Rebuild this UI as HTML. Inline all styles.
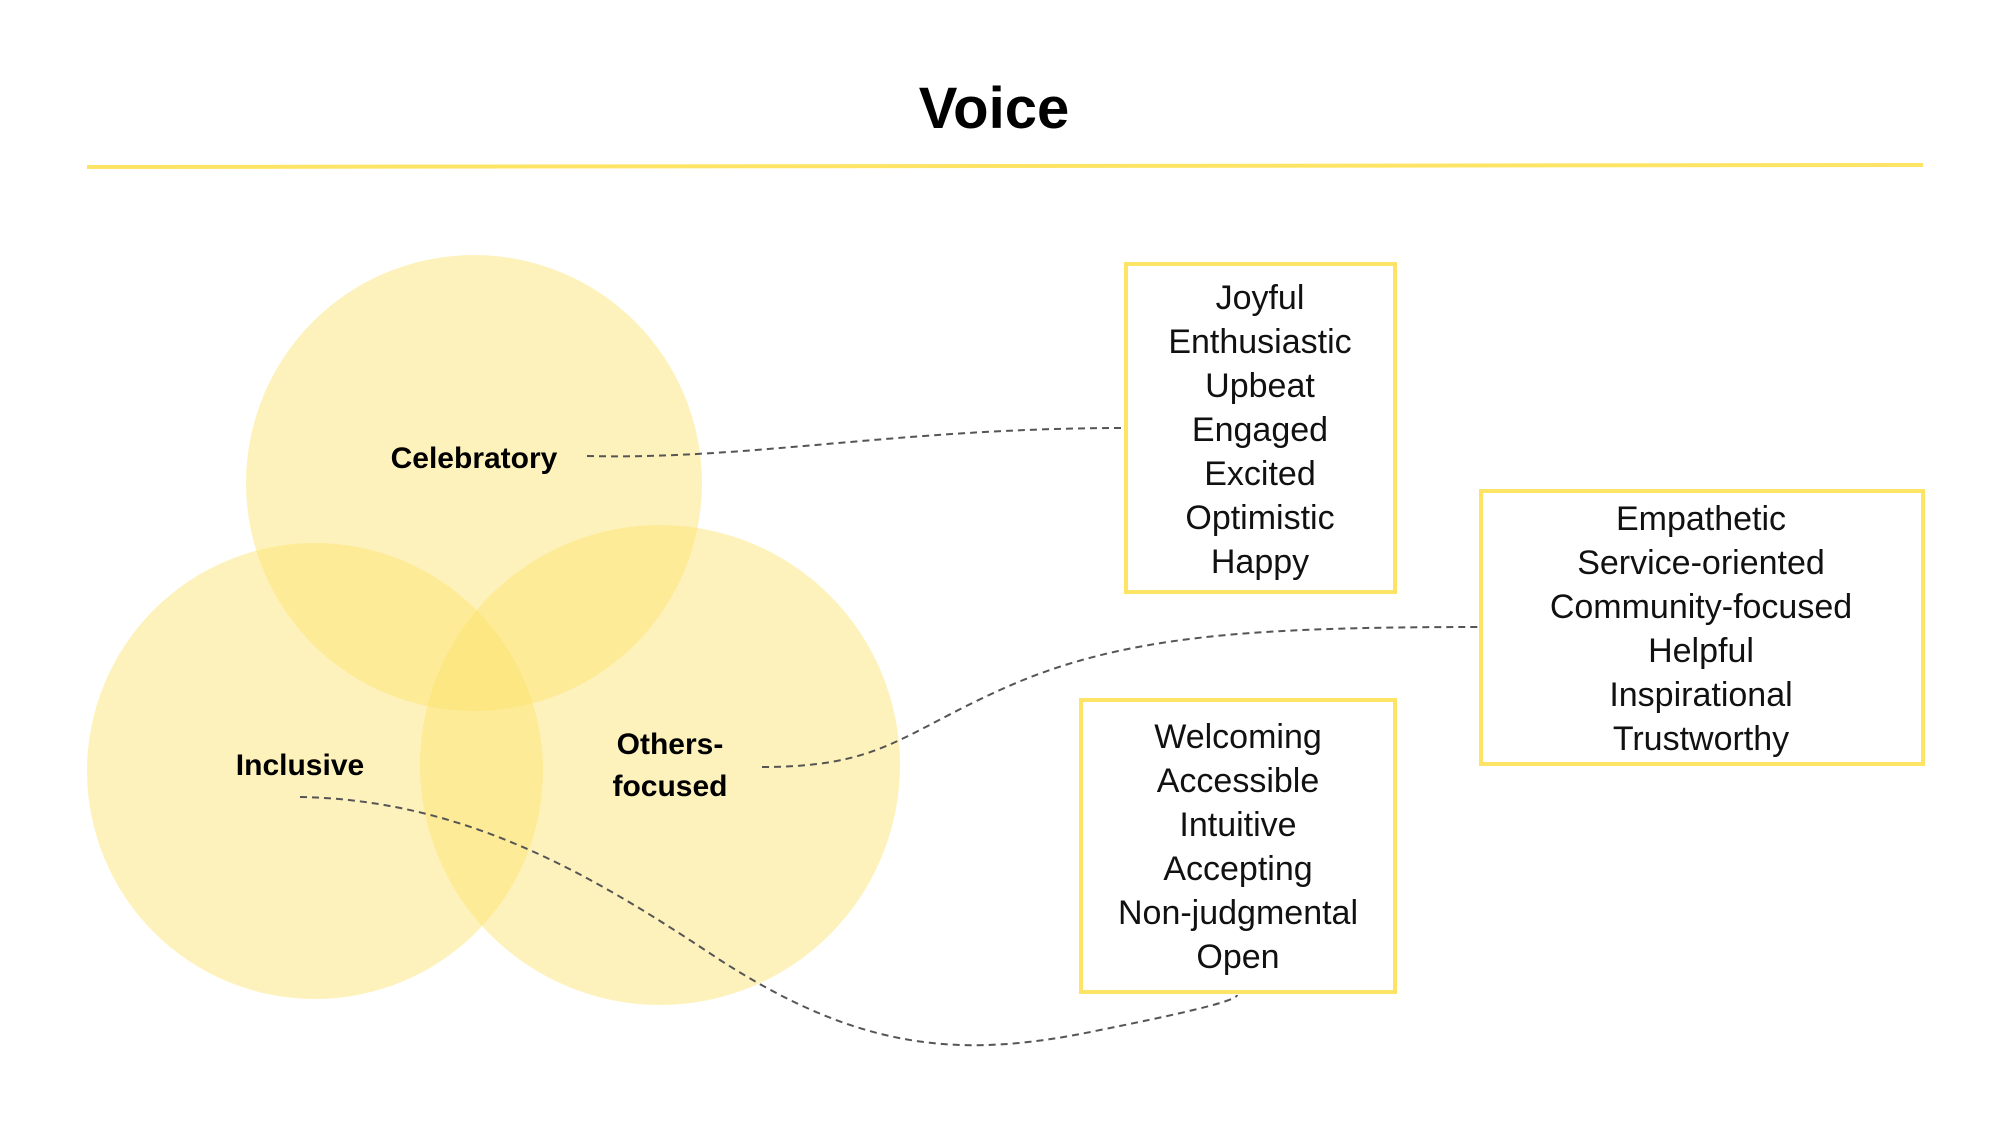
<!DOCTYPE html>
<html><head><meta charset="utf-8"><style>
html,body{margin:0;padding:0;background:#fff;}
svg{display:block;}
text{font-family:"Liberation Sans",sans-serif;}
</style></head><body>
<svg width="2000" height="1125" viewBox="0 0 2000 1125" xmlns="http://www.w3.org/2000/svg">
<rect width="2000" height="1125" fill="#fff"/>
<text x="994" y="128" text-anchor="middle" font-size="58" font-weight="bold" fill="#000">Voice</text>
<line x1="87" y1="167" x2="1923" y2="165" stroke="#fde464" stroke-width="4"/>
<g fill="#fde26a" fill-opacity="0.45">
<circle cx="474" cy="483" r="228"/>
<circle cx="315" cy="771" r="228"/>
<circle cx="660" cy="765" r="240"/>
</g>
<g fill="none" stroke="#555" stroke-width="2" stroke-dasharray="7,5">
<path d="M587 456 C750 460 900 428 1124 428"/>
<path d="M762 767 C880 767 900 735 1000 690 C1120 635 1250 627 1481 627"/>
<path d="M300 797 C470 800 600 880 720 960 C860 1050 960 1060 1100 1030 C1200 1010 1237 1000 1237 995"/>
</g>
<g font-size="30" font-weight="bold" fill="#000" text-anchor="middle">
<text x="474" y="468">Celebratory</text>
<text x="300" y="775">Inclusive</text>
<text x="670" y="754">Others-</text>
<text x="670" y="796">focused</text>
</g>
<g fill="#fff" stroke="#fde464" stroke-width="4">
<rect x="1126" y="264" width="269" height="328"/>
<rect x="1481" y="491" width="442" height="273"/>
<rect x="1081" y="700" width="314" height="292"/>
</g>
<g font-size="34" fill="#111" text-anchor="middle">
<text x="1260" y="309">Joyful</text>
<text x="1260" y="353">Enthusiastic</text>
<text x="1260" y="397">Upbeat</text>
<text x="1260" y="441">Engaged</text>
<text x="1260" y="485">Excited</text>
<text x="1260" y="529">Optimistic</text>
<text x="1260" y="573">Happy</text>
<text x="1701" y="530">Empathetic</text>
<text x="1701" y="574">Service-oriented</text>
<text x="1701" y="618">Community-focused</text>
<text x="1701" y="662">Helpful</text>
<text x="1701" y="706">Inspirational</text>
<text x="1701" y="750">Trustworthy</text>
<text x="1238" y="748">Welcoming</text>
<text x="1238" y="792">Accessible</text>
<text x="1238" y="836">Intuitive</text>
<text x="1238" y="880">Accepting</text>
<text x="1238" y="924">Non-judgmental</text>
<text x="1238" y="968">Open</text>
</g>
</svg>
</body></html>
